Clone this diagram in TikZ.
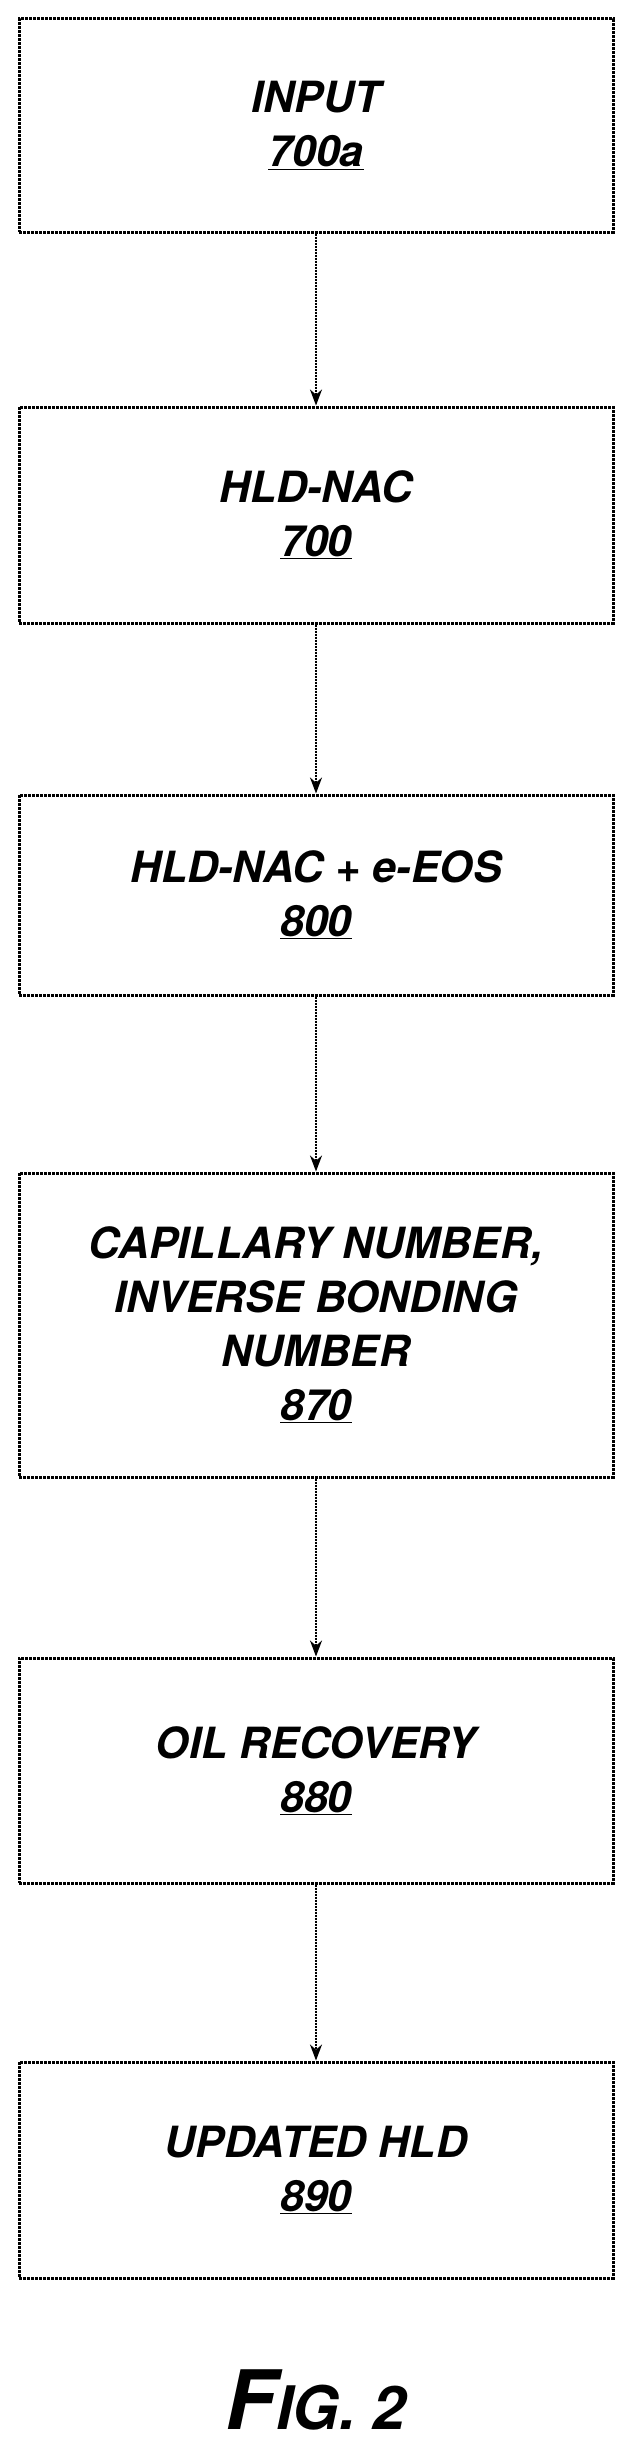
\documentclass[tikz,border=0pt]{standalone}
\usepackage{fontspec}
\setmainfont{TeX Gyre Heros}
\usetikzlibrary{positioning,arrows.meta}
\tikzset{
  stepbox/.style={draw, line width=3pt, densely dotted, minimum width=594pt, align=center,
    font=\bfseries\itshape\fontsize{43}{54}\selectfont},
  flow/.style={draw, line width=2pt, densely dotted, -{Stealth[length=16pt,width=12pt]}}
}
\newcommand{\refnum}[1]{\underline{#1}}
\begin{document}
\begin{tikzpicture}[x=1pt,y=-1pt]
  \useasboundingbox (0,0) rectangle (632,2457);
  % boxes
  \node[stepbox, minimum height=213pt] (input) at (316,125.5) {INPUT\\\refnum{700a}};
  \node[stepbox, minimum height=216pt] (hld) at (316,515) {HLD-NAC\\\refnum{700}};
  \node[stepbox, minimum height=200pt] (eos) at (316,895) {HLD-NAC + e-EOS\\\refnum{800}};
  \node[stepbox, minimum height=304pt] (cap) at (316,1325) {CAPILLARY NUMBER,\\INVERSE BONDING\\NUMBER\\\refnum{870}};
  \node[stepbox, minimum height=225pt] (oil) at (316,1770.5) {OIL RECOVERY\\\refnum{880}};
  \node[stepbox, minimum height=216pt] (upd) at (316,2170) {UPDATED HLD\\\refnum{890}};
  % arrows
  \draw[flow] (input) -- (hld);
  \draw[flow] (hld) -- (eos);
  \draw[flow] (eos) -- (cap);
  \draw[flow] (cap) -- (oil);
  \draw[flow] (oil) -- (upd);
  % caption
  \node[font=\bfseries\itshape] (fig) at (316,2400)
    {{\fontsize{82}{84}\selectfont F}{\fontsize{60}{62}\selectfont IG. 2}};
\end{tikzpicture}
\end{document}
